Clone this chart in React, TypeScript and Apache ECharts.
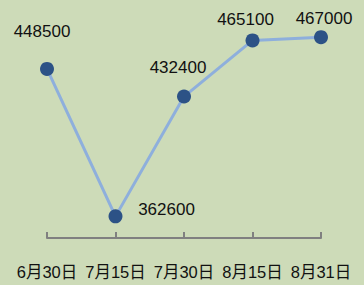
import React, { useEffect, useRef } from "react";
import * as echarts from "echarts";

const categories = ["6月30日", "7月15日", "7月30日", "8月15日", "8月31日"];
const values = [448500, 362600, 432400, 465100, 467000];
const labelOffsets: [number, number][] = [
  [-5, -37],
  [51, -7],
  [-6, -29],
  [-7, -21],
  [3, -19],
];

export default function App() {
  const ref = useRef<HTMLDivElement>(null);
  useEffect(() => {
    if (!ref.current) return;
    const chart = echarts.init(ref.current, undefined, { renderer: "svg" });
    chart.setOption({
      animation: false,
      backgroundColor: "#cddbb8",
      grid: { left: 47, right: 43, top: 32, bottom: 47 },
      xAxis: {
        type: "category",
        data: categories,
        boundaryGap: false,
        axisLine: { lineStyle: { color: "#808080", width: 2 } },
        axisTick: { inside: true, interval: 0, length: 6, lineStyle: { color: "#808080", width: 2 } },
        axisLabel: {
          interval: 0,
          margin: 26,
          fontSize: 16.5,
          color: "#111",
          fontFamily: "Liberation Sans, Noto Sans CJK SC, sans-serif",
        },
      },
      yAxis: {
        type: "value",
        min: 350000,
        max: 470000,
        show: false,
      },
      series: [
        {
          type: "line",
          data: values.map((v, i) => ({
            value: v,
            label: { offset: labelOffsets[i] },
          })),
          symbol: "circle",
          symbolSize: 14,
          itemStyle: { color: "#2c5286" },
          lineStyle: { color: "#8eafdc", width: 3 },
          label: {
            show: true,
            position: "inside",
            fontSize: 17,
            color: "#111",
            fontFamily: "Liberation Sans, Arial, sans-serif",
          },
        },
      ],
    });
    return () => chart.dispose();
  }, []);
  return (
    <div
      ref={ref}
      style={{ position: "fixed", left: 0, top: 0, width: 364, height: 285 }}
    />
  );
}
